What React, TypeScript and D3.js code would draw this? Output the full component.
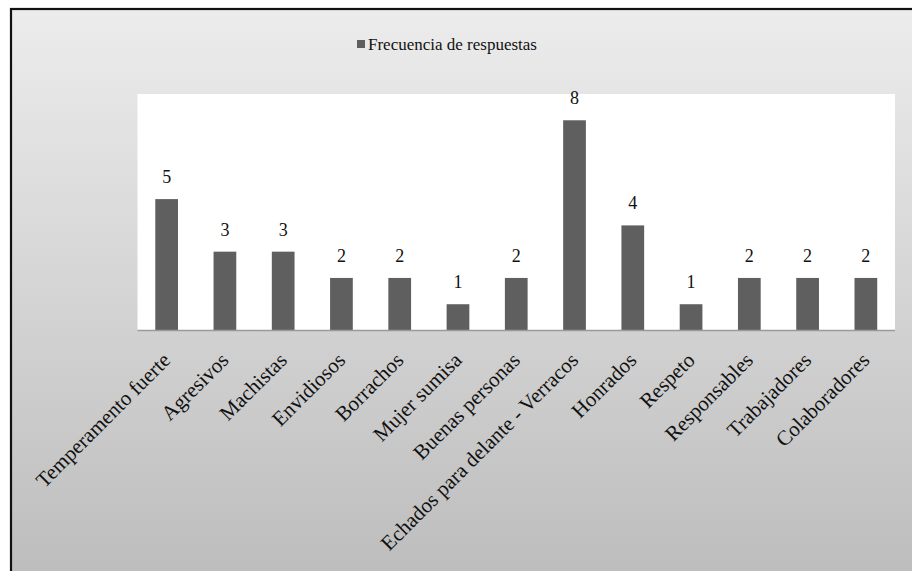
import { useEffect, useRef } from "react"
import * as d3 from "d3"

const categories = [
  "Temperamento fuerte",
  "Agresivos",
  "Machistas",
  "Envidiosos",
  "Borrachos",
  "Mujer sumisa",
  "Buenas personas",
  "Echados para delante - Verracos",
  "Honrados",
  "Respeto",
  "Responsables",
  "Trabajadores",
  "Colaboradores",
]
const values = [5, 3, 3, 2, 2, 1, 2, 8, 4, 1, 2, 2, 2]
const seriesName = "Frecuencia de respuestas"

export default function App() {
  const svgRef = useRef<SVGSVGElement>(null)

  useEffect(() => {
    if (!svgRef.current) return
    const svg = d3.select(svgRef.current)
    svg.selectAll("*").remove()

    const width = 912
    const height = 571
    const plot = { left: 137.5, right: 895, top: 94, bottom: 330.5 }
    const font = "'Liberation Serif', 'DejaVu Serif', serif"

    const defs = svg.append("defs")
    const bg = defs.append("linearGradient")
      .attr("id", "bg-grad")
      .attr("x1", "0%").attr("y1", "0%")
      .attr("x2", "0%").attr("y2", "100%")
    bg.append("stop").attr("offset", "0%").attr("stop-color", "#ececec")
    bg.append("stop").attr("offset", "100%").attr("stop-color", "#bbbbbb")

    svg.append("rect")
      .attr("width", width).attr("height", height)
      .attr("fill", "#ffffff")

    // chart frame (runs off the right and bottom edges)
    svg.append("rect")
      .attr("x", 11).attr("y", 9)
      .attr("width", width + 20).attr("height", height + 20)
      .attr("fill", "url(#bg-grad)")
      .attr("stroke", "#111")
      .attr("stroke-width", 2.2)

    svg.append("rect")
      .attr("x", plot.left).attr("y", plot.top)
      .attr("width", plot.right - plot.left)
      .attr("height", plot.bottom - plot.top)
      .attr("fill", "#ffffff")

    const x = d3.scaleBand<string>()
      .domain(categories)
      .range([plot.left, plot.right])
      .paddingInner(0.61)
      .paddingOuter(0.305)

    const y = d3.scaleLinear()
      .domain([0, 9])
      .range([plot.bottom, plot.top])

    const g = svg.append("g")

    g.selectAll("rect.bar")
      .data(values)
      .join("rect")
      .attr("class", "bar")
      .attr("x", (_, i) => x(categories[i])!)
      .attr("y", d => y(d))
      .attr("width", x.bandwidth())
      .attr("height", d => y(0) - y(d))
      .attr("fill", "#5f5f5f")

    g.selectAll("text.val")
      .data(values)
      .join("text")
      .attr("class", "val")
      .attr("x", (_, i) => x(categories[i])! + x.bandwidth() / 2)
      .attr("y", d => y(d) - 16)
      .attr("text-anchor", "middle")
      .style("font-family", font)
      .style("font-size", "18px")
      .attr("fill", "#111")
      .text(d => d)

    g.append("line")
      .attr("x1", plot.left).attr("x2", plot.right)
      .attr("y1", plot.bottom).attr("y2", plot.bottom)
      .attr("stroke", "#9a9a9a")
      .attr("stroke-width", 1.5)

    g.selectAll("text.cat")
      .data(categories)
      .join("text")
      .attr("class", "cat")
      .attr("text-anchor", "end")
      .attr("transform", d => `translate(${x(d)! + x.bandwidth() / 2 + 5},${plot.bottom + 31}) rotate(-45)`)
      .style("font-family", font)
      .style("font-size", "21px")
      .attr("fill", "#111")
      .text(d => d)

    const legend = svg.append("g").attr("transform", "translate(357,40)")
    legend.append("rect")
      .attr("width", 8).attr("height", 8)
      .attr("fill", "#5f5f5f")
    legend.append("text")
      .attr("x", 11).attr("y", 10)
      .style("font-family", font)
      .style("font-size", "17px")
      .attr("fill", "#111")
      .text(seriesName)
  }, [])

  return (
    <svg
      ref={svgRef}
      width={912}
      height={571}
      style={{ position: "absolute", left: 0, top: 0, display: "block" }}
    />
  )
}
